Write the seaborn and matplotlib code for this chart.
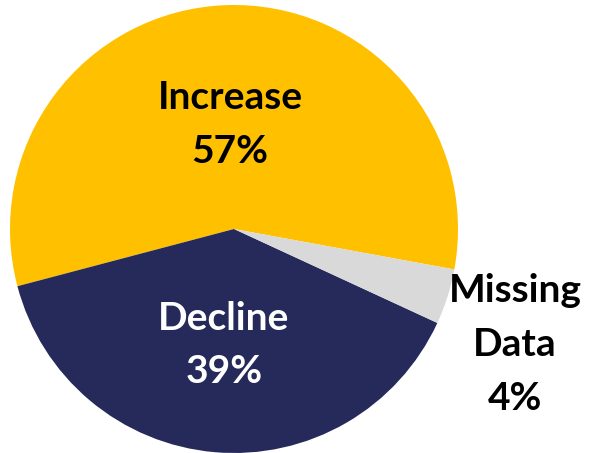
import numpy as np
import seaborn as sns
import matplotlib.pyplot as plt

categories = ["Increase", "Decline", "Missing\nData"]
shares = [57, 39, 4]
colors = ["#FFC000", "#262A5A", "#D9D9D9"]
text_colors = ["black", "white", "black"]
label_dist = [0.465, 0.52, 1.357]

sns.set_theme(style="white")
plt.rcParams['font.family'] = ['Lato', 'DejaVu Sans']

fig = plt.figure(figsize=(5.98, 4.53), dpi=100)
# pie centre at (234, 229) px, radius 224 px
ax = fig.add_axes([10 / 598, 0 / 453, 448 / 598, 448 / 453])
wedges, _ = ax.pie(shares, colors=colors, startangle=-10.4, counterclock=True,
                   radius=1, wedgeprops=dict(linewidth=0))
ax.set_xlim(-1, 1)
ax.set_ylim(-1, 1)
ax.set_aspect("equal")
ax.axis("off")

for w, cat, val, tc, d in zip(wedges, categories, shares, text_colors, label_dist):
    ang = np.deg2rad((w.theta1 + w.theta2) / 2)
    if d > 1:
        ang = np.deg2rad(-22.4)  # outside label sits a bit below the small slice
    ax.text(d * np.cos(ang), d * np.sin(ang), f"{cat}\n{val}%", ha="center", va="center",
            color=tc, fontsize=28, fontweight="bold", linespacing=1.65, clip_on=False)

fig.savefig("out.png", dpi=100)
